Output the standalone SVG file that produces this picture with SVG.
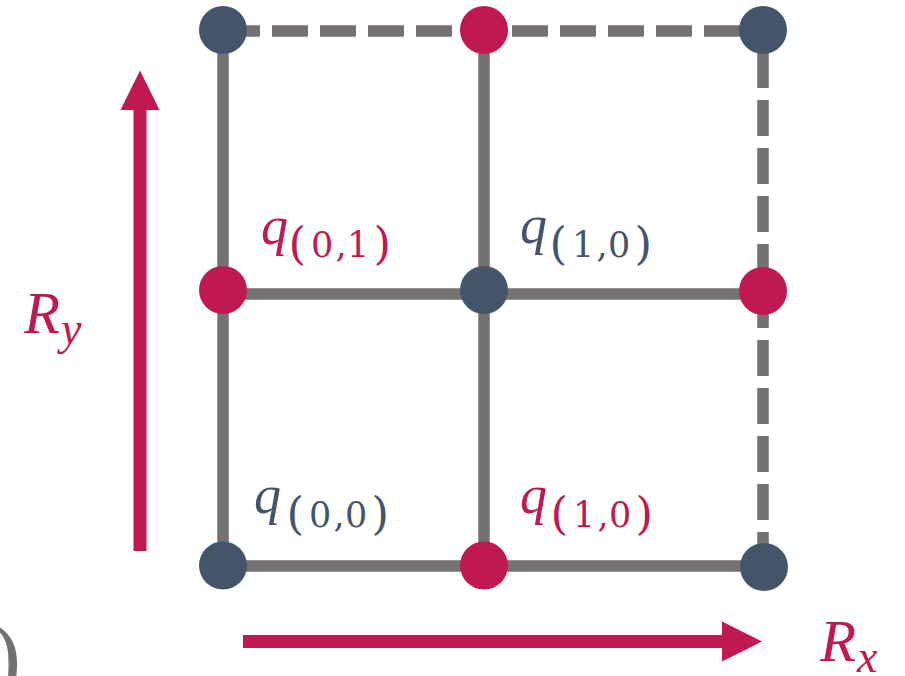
<svg xmlns="http://www.w3.org/2000/svg" width="905" height="676" viewBox="0 0 905 676">
  <style>
    .ln { stroke: #767171; stroke-width: 11.5; fill: none; }
    .dash { stroke-dasharray: 36 12; }
    .nb { fill: #44546A; }
    .nr { fill: #C0194F; }
    .ax { fill: #C0194F; }
    .q { font-family: "Liberation Serif", serif; font-style: italic; font-size: 54px; }
    .pa { font-family: "DejaVu Serif", serif; font-size: 45px; }
    .dg { font-family: "DejaVu Serif", serif; font-size: 35px; }
    .R { font-family: "Liberation Serif", serif; font-style: italic; font-size: 59px; fill: #C0194F; }
    .sub { font-family: "Liberation Serif", serif; font-style: italic; font-size: 46px; fill: #C0194F; }
    .tr { fill: #C0194F; }
    .tb { fill: #44546A; }
  </style>
  <rect width="905" height="676" fill="#ffffff"/>

  <g id="connectors">
    <line class="ln" x1="223" y1="30" x2="223" y2="566"/>
    <line class="ln" x1="484" y1="30" x2="484" y2="566"/>
    <line class="ln" x1="223" y1="294" x2="763" y2="294"/>
    <line class="ln" x1="223" y1="566" x2="763" y2="566"/>
    <line class="ln dash" x1="224" y1="31" x2="763" y2="31"/>
    <line class="ln dash" x1="763" y1="52" x2="763" y2="566"/>
  </g>

  <g id="axes">
    <path class="ax" d="M133.5 551 V110 H120.5 L140 70.5 L159.5 110 H146.5 V551 Z"/>
    <path class="ax" d="M243 635 H722 V621.5 L762 641.5 L722 661.5 V648 H243 Z"/>
  </g>

  <g id="n-0-2"><circle class="nb" cx="223" cy="30" r="24"/></g>
  <g id="n-1-2"><circle class="nr" cx="484" cy="30" r="24"/></g>
  <g id="n-2-2"><circle class="nb" cx="763" cy="30" r="24"/></g>
  <g id="n-0-1"><circle class="nr" cx="223" cy="290" r="24"/></g>
  <g id="n-1-1"><circle class="nb" cx="484" cy="290" r="24"/></g>
  <g id="n-2-1"><circle class="nr" cx="763" cy="291" r="24"/></g>
  <g id="n-0-0"><circle class="nb" cx="223" cy="565.5" r="24"/></g>
  <g id="n-1-0"><circle class="nr" cx="484" cy="565.5" r="24"/></g>
  <g id="n-2-0"><circle class="nb" cx="764" cy="567" r="24"/></g>

  <g id="label-q01">
    <text class="tr"><tspan class="q" x="261" y="244">q</tspan><tspan class="pa" x="288.5" y="259">(</tspan><tspan class="dg" x="311 335.5 347" y="257">0,1</tspan><tspan class="pa" x="373.5" y="259">)</tspan></text>
  </g>
  <g id="label-q10-top">
    <text class="tb"><tspan class="q" x="520" y="243">q</tspan><tspan class="pa" x="549.5" y="259">(</tspan><tspan class="dg" x="572 596.5 608" y="257">1,0</tspan><tspan class="pa" x="634.5" y="259">)</tspan></text>
  </g>
  <g id="label-q00">
    <text class="tb"><tspan class="q" x="254" y="513">q</tspan><tspan class="pa" x="286.5" y="529">(</tspan><tspan class="dg" x="309 333.5 345" y="527">0,0</tspan><tspan class="pa" x="371.5" y="529">)</tspan></text>
  </g>
  <g id="label-q10-bot">
    <text class="tr"><tspan class="q" x="520" y="513">q</tspan><tspan class="pa" x="550.5" y="529">(</tspan><tspan class="dg" x="573 597.5 609" y="527">1,0</tspan><tspan class="pa" x="635.5" y="529">)</tspan></text>
  </g>

  <g id="label-Ry">
    <text class="R" x="24" y="333">R</text>
    <text class="sub" x="61" y="344">y</text>
  </g>
  <g id="label-Rx">
    <text class="R" x="820" y="661">R</text>
    <text class="sub" x="857" y="672">x</text>
  </g>

  <text x="-9" y="687" font-family="Liberation Serif, serif" font-size="90" fill="#767171">)</text>
</svg>
